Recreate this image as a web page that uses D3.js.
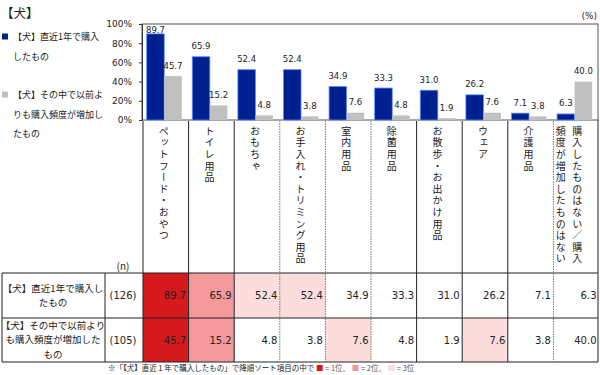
<!DOCTYPE html>
<html>
<head>
<meta charset="UTF-8">
<script src="https://d3js.org/d3.v7.min.js"></script>
<style>
  body { margin: 0; background: #fff; }
  text { font-family: "Noto Sans CJK JP", sans-serif; fill: #222; }
  .num { font-family: "DejaVu Sans", Verdana, sans-serif; }
</style>
</head>
<body>
<svg id="canvas"></svg>
<script>
  // data
  categories = ["ペットフード・おやつ", "トイレ用品", "おもちゃ", "お手入れ・トリミング用品", "室内用品",
                "除菌用品", "お散歩・お出かけ用品", "ウェア", "介護用品",
                "購入したものはない／購入頻度が増加したものはない"];
  bought    = [89.7, 65.9, 52.4, 52.4, 34.9, 33.3, 31.0, 26.2, 7.1, 6.3];
  increased = [45.7, 15.2, 4.8, 3.8, 7.6, 4.8, 1.9, 7.6, 3.8, 40.0];
  seriesNames = ["【犬】直近1年で購入したもの", "【犬】その中で以前よりも購入頻度が増加したもの"];
  sampleN = [126, 105];
  yTicks = [0, 20, 40, 60, 80, 100];
  rankedCount = 9;   // last column is not ranked

  width = 600; height = 375;
  plot = {left: 142, right: 598, top: 24, bottom: 120};
  tableTop = 273, row1 = 318, tableBottom = 362;
  blue = "#00208f", grey = "#c0c0c0";
  heat = ["#d41a1c", "#f4999b", "#fcdddd"];
  dotted = [3, 4, 5, 9];

  svg = d3.select("#canvas").attr("width", width).attr("height", height);

  // title + legend
  svg.append("text").attr("x", 1).attr("y", 18).style("font-size", "12.5px").text("【犬】");

  legend = [
    {y: 37, color: blue, lines: ["【犬】直近1年で購入", "したもの"]},
    {y: 95, color: grey, lines: ["【犬】その中で以前よ", "りも購入頻度が増加し", "たもの"]}
  ];
  legend.forEach(l => {
    svg.append("rect").attr("x", 2).attr("y", l.y - 3.5).attr("width", 6).attr("height", 6).attr("fill", l.color);
    l.lines.forEach((t, i) => {
      svg.append("text").attr("x", 13).attr("y", l.y + i * 19.5).attr("dy", "0.35em")
        .style("font-size", "9px").text(t);
    });
  });

  x = d3.scaleBand().domain(categories).range([plot.left + 1, plot.right + 1]);
  xs = d3.scaleBand().domain([0, 1]).range([0, x.bandwidth()]).paddingOuter(0.3).align(0.35);
  y = d3.scaleLinear().domain([0, 100]).range([plot.bottom, plot.top]);

  // frame
  svg.append("rect").attr("x", plot.left).attr("y", plot.top)
    .attr("width", plot.right - plot.left).attr("height", plot.bottom - plot.top)
    .attr("fill", "none").attr("stroke", "#555").attr("stroke-width", 1);

  yAxis = svg.append("g").attr("transform", "translate(" + plot.left + ",0)")
    .call(d3.axisLeft(y).tickValues(yTicks).tickSize(3).tickFormat(d => d + "%"));
  yAxis.select(".domain").attr("stroke", "#333");
  yAxis.selectAll(".tick line").attr("stroke", "#333");
  yAxis.selectAll(".tick text").attr("class", "num").attr("x", -10)
    .style("font-size", "9px").style("font-family", "'DejaVu Sans', sans-serif").attr("fill", "#333");

  svg.append("text").attr("class", "num").attr("x", 597).attr("y", 19).attr("text-anchor", "end")
    .style("font-size", "9px").text("(%)");

  series = [bought, increased];
  colors = [blue, grey];
  series.forEach((vals, s) => {
    g = svg.append("g");
    g.selectAll("rect").data(vals).enter().append("rect")
      .attr("x", (d, i) => x(categories[i]) + xs(s))
      .attr("y", d => y(d))
      .attr("width", xs.bandwidth())
      .attr("height", d => y(0) - y(d))
      .attr("fill", colors[s])
      .attr("stroke", s == 0 ? "#5a8cff" : "none").attr("stroke-width", 0.8);
    g.selectAll("text").data(vals).enter().append("text").attr("class", "num")
      .attr("x", (d, i) => x(categories[i]) + xs(s) + xs.bandwidth() / 2)
      .attr("y", d => Math.max(y(d) - 7.5, 33))
      .attr("text-anchor", "middle")
      .style("font-size", "8.5px").attr("fill", "#333")
      .text(d => d.toFixed(1));
  });

  // category labels (vertical)
  categories.forEach((c, i) => {
    cols = [];
    for (k = 0; k < c.length; k += 12) cols.push(c.slice(k, k + 12));
    cx = x(c) + x.bandwidth() / 2 - 2;
    if (cols.length > 1) cx = x(c) + x.bandwidth() / 2 + 1;
    cols.forEach((t, j) => {
      svg.append("text")
        .attr("x", cx - j * 16.5).attr("y", 126)
        .style("writing-mode", "vertical-rl")
        .style("font-size", "10px").style("letter-spacing", "1.6px")
        .text(t);
    });
  });

  // table
  lineColor = "#222";
  rows = [
    {vals: bought, n: sampleN[0], top: tableTop, bottom: row1, label: ["【犬】直近1年で購入し", "たもの"]},
    {vals: increased, n: sampleN[1], top: row1, bottom: tableBottom, label: ["【犬】その中で以前より", "も購入頻度が増加した", "もの"]}
  ];

  rows.forEach(r => {
    sorted = Array.from(new Set(r.vals.slice(0, rankedCount))).sort((a, b) => b - a);
    r.vals.forEach((v, i) => {
      rank = i < rankedCount ? sorted.indexOf(v) : -1;
      if (rank >= 0 && rank < 3) {
        svg.append("rect").attr("x", x(categories[i])).attr("y", r.top)
          .attr("width", x.bandwidth()).attr("height", r.bottom - r.top).attr("fill", heat[rank]);
      }
      svg.append("text").attr("class", "num")
        .attr("x", x(categories[i]) + x.bandwidth() - 2.5).attr("y", (r.top + r.bottom) / 2).attr("dy", "0.35em")
        .attr("text-anchor", "end").style("font-size", "10px").text(v.toFixed(1));
    });
    svg.append("text").attr("class", "num").attr("x", 123).attr("y", (r.top + r.bottom) / 2).attr("dy", "0.35em")
      .attr("text-anchor", "middle").style("font-size", "10px").text("(" + r.n + ")");
    mid = (r.top + r.bottom) / 2;
    r.label.forEach((t, i) => {
      svg.append("text").attr("x", 53).attr("y", mid + (i - (r.label.length - 1) / 2) * 14.5).attr("dy", "0.35em")
        .attr("text-anchor", "middle").style("font-size", "9.5px").text(t);
    });
  });

  svg.append("text").attr("x", 123).attr("y", 266).attr("dy", "0.35em").attr("text-anchor", "middle")
    .style("font-size", "10px").text("(n)");

  // grid lines
  [tableTop, row1, tableBottom].forEach(yy => {
    svg.append("line").attr("x1", 2).attr("x2", plot.right).attr("y1", yy).attr("y2", yy)
      .attr("stroke", lineColor).attr("stroke-width", 1);
  });
  [2, 105].forEach(xx => {
    svg.append("line").attr("x1", xx).attr("x2", xx).attr("y1", tableTop).attr("y2", tableBottom)
      .attr("stroke", lineColor);
  });
  categories.forEach((c, i) => {
    svg.append("line").attr("x1", x(c)).attr("x2", x(c)).attr("y1", plot.bottom + 1).attr("y2", tableBottom)
      .attr("stroke", dotted.includes(i) ? "#777" : lineColor)
      .attr("stroke-dasharray", dotted.includes(i) ? "1.5,1" : null);
  });
  svg.append("line").attr("x1", plot.right).attr("x2", plot.right).attr("y1", plot.bottom).attr("y2", tableBottom)
    .attr("stroke", lineColor);

  // footnote
  foot = svg.append("text").attr("x", 108).attr("y", 371).style("font-size", "7.5px").attr("fill", "#555");
  foot.append("tspan").text("※「【犬】直近１年で購入したもの」で降順ソート項目の中で");
  ["1位、", "2位、", "3位"].forEach((t, i) => {
    foot.append("tspan").attr("fill", heat[i]).text(" ■");
    foot.append("tspan").attr("fill", "#555").text(" = " + t);
  });
</script>
</body>
</html>
